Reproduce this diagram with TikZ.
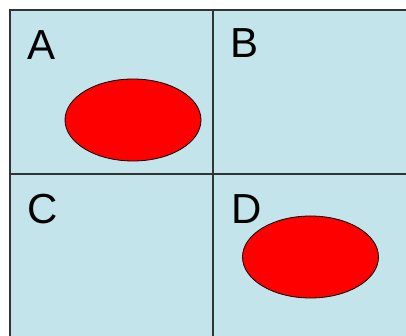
\documentclass[tikz,border=0pt]{standalone}
\usepackage{fontspec}
\setmainfont{Liberation Sans}
\usepackage{xcolor}
\usepackage{tikz}
\usetikzlibrary{shapes.geometric,positioning}
\definecolor{cellc}{HTML}{C2E4EA}
\definecolor{gridc}{HTML}{333333}
\definecolor{blobc}{HTML}{FF0000}
\tikzset{
  cellnode/.style={rectangle, draw=gridc, fill=cellc, line width=1.6pt,
    inner sep=0pt, minimum width=203pt, minimum height=164pt},
  blobnode/.style={ellipse, draw=black, fill=blobc, line width=0.8pt,
    inner sep=0pt, minimum width=136pt, minimum height=82pt},
  labelnode/.style={anchor=base west, inner sep=0pt,
    font=\fontsize{42}{42}\selectfont},
}

\begin{document}
\begin{tikzpicture}[x=1pt, y=-1pt]
  \clip (0,0) rectangle (406,336);
  \useasboundingbox (0,0) rectangle (406,336);
  \fill[white] (0,0) rectangle (406,336);
  % quadrants
  \node[cellnode] (cella) at (111.5,92) {};
  \node[cellnode] (cellb) at (314.5,92) {};
  \node[cellnode] (cellc) at (111.5,256) {};
  \node[cellnode] (celld) at (314.5,256) {};
  % labels
  \node[labelnode] (laba) at (27,60) {A};
  \node[labelnode] (labb) at (230,58) {B};
  \node[labelnode] (labc) at (27,224) {C};
  \node[labelnode] (labd) at (231,224) {D};
  % red blobs
  \node[blobnode] (bloba) at (133,120) {};
  \node[blobnode] (blobd) at (310.5,257) {};
\end{tikzpicture}
\end{document}
